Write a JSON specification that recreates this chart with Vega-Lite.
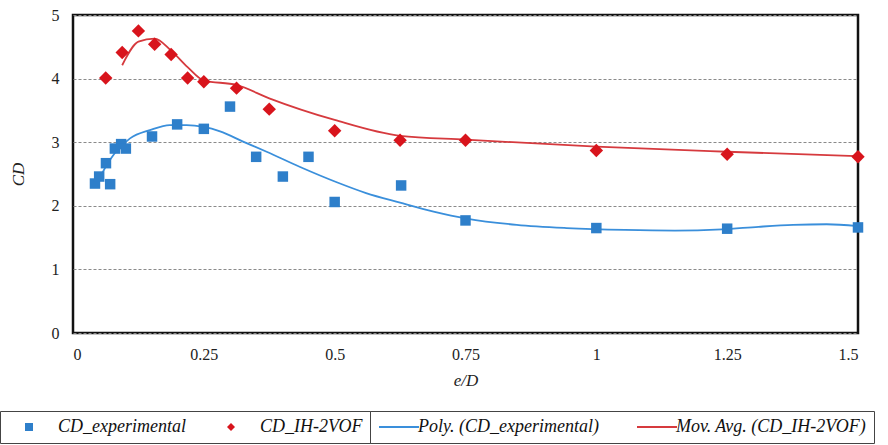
{
  "$schema": "https://vega.github.io/schema/vega-lite/v6.json",
  "width": 785,
  "height": 318,
  "autosize": {"type": "none"},
  "padding": {"left": 73, "top": 15, "right": 30, "bottom": 112},
  "background": "white",
  "config": {
    "font": "Liberation Serif",
    "view": {"stroke": "#111111", "strokeWidth": 2.5},
    "axis": {"labelFont": "Liberation Serif", "titleFont": "Liberation Serif", "labelColor": "#222222", "titleColor": "#222222"},
    "legend": {
      "orient": "none", "direction": "horizontal", "padding": 7,
      "strokeColor": "#444444",
      "labelFont": "Liberation Serif", "labelFontSize": 18, "labelFontStyle": "italic",
      "labelColor": "#111111", "labelLimit": 400
    }
  },
  "datasets": {
    "pts": [
      {"series": "CD_experimental", "eD": 0.042, "CD": 2.35},
      {"series": "CD_experimental", "eD": 0.050, "CD": 2.46},
      {"series": "CD_experimental", "eD": 0.063, "CD": 2.67},
      {"series": "CD_experimental", "eD": 0.071, "CD": 2.34},
      {"series": "CD_experimental", "eD": 0.080, "CD": 2.90},
      {"series": "CD_experimental", "eD": 0.092, "CD": 2.97},
      {"series": "CD_experimental", "eD": 0.101, "CD": 2.90},
      {"series": "CD_experimental", "eD": 0.151, "CD": 3.09},
      {"series": "CD_experimental", "eD": 0.199, "CD": 3.28},
      {"series": "CD_experimental", "eD": 0.250, "CD": 3.21},
      {"series": "CD_experimental", "eD": 0.300, "CD": 3.56},
      {"series": "CD_experimental", "eD": 0.350, "CD": 2.77},
      {"series": "CD_experimental", "eD": 0.401, "CD": 2.46},
      {"series": "CD_experimental", "eD": 0.450, "CD": 2.77},
      {"series": "CD_experimental", "eD": 0.500, "CD": 2.06},
      {"series": "CD_experimental", "eD": 0.627, "CD": 2.32},
      {"series": "CD_experimental", "eD": 0.750, "CD": 1.77},
      {"series": "CD_experimental", "eD": 1.000, "CD": 1.65},
      {"series": "CD_experimental", "eD": 1.250, "CD": 1.64},
      {"series": "CD_experimental", "eD": 1.500, "CD": 1.66},
      {"series": "CD_IH-2VOF", "eD": 0.0625, "CD": 4.01},
      {"series": "CD_IH-2VOF", "eD": 0.094, "CD": 4.41},
      {"series": "CD_IH-2VOF", "eD": 0.125, "CD": 4.75},
      {"series": "CD_IH-2VOF", "eD": 0.156, "CD": 4.54},
      {"series": "CD_IH-2VOF", "eD": 0.1875, "CD": 4.38},
      {"series": "CD_IH-2VOF", "eD": 0.219, "CD": 4.01},
      {"series": "CD_IH-2VOF", "eD": 0.250, "CD": 3.95},
      {"series": "CD_IH-2VOF", "eD": 0.3125, "CD": 3.85},
      {"series": "CD_IH-2VOF", "eD": 0.375, "CD": 3.52},
      {"series": "CD_IH-2VOF", "eD": 0.500, "CD": 3.18},
      {"series": "CD_IH-2VOF", "eD": 0.625, "CD": 3.03},
      {"series": "CD_IH-2VOF", "eD": 0.750, "CD": 3.03},
      {"series": "CD_IH-2VOF", "eD": 1.000, "CD": 2.87},
      {"series": "CD_IH-2VOF", "eD": 1.250, "CD": 2.81},
      {"series": "CD_IH-2VOF", "eD": 1.500, "CD": 2.77}
    ],
    "trends": [
      {"series": "Poly. (CD_experimental)", "eD": 0.042, "CD": 2.36},
      {"series": "Poly. (CD_experimental)", "eD": 0.052, "CD": 2.46},
      {"series": "Poly. (CD_experimental)", "eD": 0.063, "CD": 2.62},
      {"series": "Poly. (CD_experimental)", "eD": 0.080, "CD": 2.83},
      {"series": "Poly. (CD_experimental)", "eD": 0.109, "CD": 3.06},
      {"series": "Poly. (CD_experimental)", "eD": 0.147, "CD": 3.19},
      {"series": "Poly. (CD_experimental)", "eD": 0.185, "CD": 3.27},
      {"series": "Poly. (CD_experimental)", "eD": 0.217, "CD": 3.27},
      {"series": "Poly. (CD_experimental)", "eD": 0.250, "CD": 3.24},
      {"series": "Poly. (CD_experimental)", "eD": 0.281, "CD": 3.17},
      {"series": "Poly. (CD_experimental)", "eD": 0.325, "CD": 3.01},
      {"series": "Poly. (CD_experimental)", "eD": 0.370, "CD": 2.85},
      {"series": "Poly. (CD_experimental)", "eD": 0.434, "CD": 2.61},
      {"series": "Poly. (CD_experimental)", "eD": 0.504, "CD": 2.37},
      {"series": "Poly. (CD_experimental)", "eD": 0.560, "CD": 2.20},
      {"series": "Poly. (CD_experimental)", "eD": 0.625, "CD": 2.05},
      {"series": "Poly. (CD_experimental)", "eD": 0.689, "CD": 1.91},
      {"series": "Poly. (CD_experimental)", "eD": 0.752, "CD": 1.80},
      {"series": "Poly. (CD_experimental)", "eD": 0.848, "CD": 1.70},
      {"series": "Poly. (CD_experimental)", "eD": 0.943, "CD": 1.65},
      {"series": "Poly. (CD_experimental)", "eD": 1.055, "CD": 1.62},
      {"series": "Poly. (CD_experimental)", "eD": 1.150, "CD": 1.61},
      {"series": "Poly. (CD_experimental)", "eD": 1.240, "CD": 1.63},
      {"series": "Poly. (CD_experimental)", "eD": 1.310, "CD": 1.67},
      {"series": "Poly. (CD_experimental)", "eD": 1.376, "CD": 1.70},
      {"series": "Poly. (CD_experimental)", "eD": 1.440, "CD": 1.71},
      {"series": "Poly. (CD_experimental)", "eD": 1.500, "CD": 1.68},
      {"series": "Mov. Avg. (CD_IH-2VOF)", "eD": 0.094, "CD": 4.21},
      {"series": "Mov. Avg. (CD_IH-2VOF)", "eD": 0.125, "CD": 4.58},
      {"series": "Mov. Avg. (CD_IH-2VOF)", "eD": 0.156, "CD": 4.63},
      {"series": "Mov. Avg. (CD_IH-2VOF)", "eD": 0.1875, "CD": 4.44},
      {"series": "Mov. Avg. (CD_IH-2VOF)", "eD": 0.219, "CD": 4.18},
      {"series": "Mov. Avg. (CD_IH-2VOF)", "eD": 0.250, "CD": 3.97},
      {"series": "Mov. Avg. (CD_IH-2VOF)", "eD": 0.3125, "CD": 3.90},
      {"series": "Mov. Avg. (CD_IH-2VOF)", "eD": 0.375, "CD": 3.69},
      {"series": "Mov. Avg. (CD_IH-2VOF)", "eD": 0.500, "CD": 3.35},
      {"series": "Mov. Avg. (CD_IH-2VOF)", "eD": 0.625, "CD": 3.10},
      {"series": "Mov. Avg. (CD_IH-2VOF)", "eD": 0.750, "CD": 3.04},
      {"series": "Mov. Avg. (CD_IH-2VOF)", "eD": 1.000, "CD": 2.93},
      {"series": "Mov. Avg. (CD_IH-2VOF)", "eD": 1.250, "CD": 2.85},
      {"series": "Mov. Avg. (CD_IH-2VOF)", "eD": 1.500, "CD": 2.78}
    ]
  },
  "encoding": {
    "x": {
      "field": "eD", "type": "quantitative",
      "scale": {"domain": [0, 1.5], "nice": false, "zero": false},
      "axis": {
        "title": "e/D", "values": [0, 0.25, 0.5, 0.75, 1, 1.25, 1.5],
        "labelExpr": "'' + datum.value", "grid": false, "ticks": false, "domain": false,
        "labelFontSize": 16, "labelPadding": 13, "titleFontSize": 17,
        "titleFontStyle": "italic", "titleFontWeight": "normal", "titlePadding": 10
      }
    },
    "y": {
      "field": "CD", "type": "quantitative",
      "scale": {"domain": [0, 5], "nice": false},
      "axis": {
        "title": "CD", "values": [0, 1, 2, 3, 4, 5], "grid": true, "gridDash": [3, 2],
        "gridColor": "#8a8a8a", "gridWidth": 1.2, "ticks": false, "domain": false,
        "labelFontSize": 16, "labelPadding": 14, "titleFontSize": 17,
        "titleFontStyle": "italic", "titleFontWeight": "normal", "titlePadding": 24
      }
    }
  },
  "layer": [
    {
      "data": {"name": "trends"},
      "mark": {"type": "line", "strokeWidth": 1.8, "interpolate": "monotone"},
      "encoding": {
        "stroke": {
          "field": "series", "type": "nominal",
          "scale": {"domain": ["Poly. (CD_experimental)", "Mov. Avg. (CD_IH-2VOF)"], "range": ["#3A8FDB", "#D63A3E"]},
          "legend": {
            "title": null, "legendX": 297, "legendY": 396,
            "symbolType": "M-5,0H5", "symbolSize": 64, "symbolStrokeWidth": 2,
            "symbolOffset": 13, "labelOffset": 10, "columnPadding": 34
          }
        }
      }
    },
    {
      "data": {"name": "pts"},
      "transform": [{"filter": "datum.series === 'CD_experimental'"}],
      "mark": {"type": "point", "filled": true, "opacity": 1, "size": 110},
      "encoding": {
        "color": {
          "field": "series", "type": "nominal",
          "scale": {"domain": ["CD_experimental", "CD_IH-2VOF"], "range": ["#2E7FCA", "#D8141C"]},
          "legend": {
            "title": null, "legendX": -73, "legendY": 396,
            "symbolSize": 64, "symbolOffset": 13, "labelOffset": 20, "columnPadding": 23
          }
        },
        "shape": {
          "field": "series", "type": "nominal",
          "scale": {"domain": ["CD_experimental", "CD_IH-2VOF"], "range": ["square", "diamond"]}
        }
      }
    },
    {
      "data": {"name": "pts"},
      "transform": [{"filter": "datum.series === 'CD_IH-2VOF'"}],
      "mark": {"type": "point", "filled": true, "opacity": 1, "size": 180},
      "encoding": {
        "color": {"field": "series", "type": "nominal"},
        "shape": {"field": "series", "type": "nominal"}
      }
    }
  ]
}
